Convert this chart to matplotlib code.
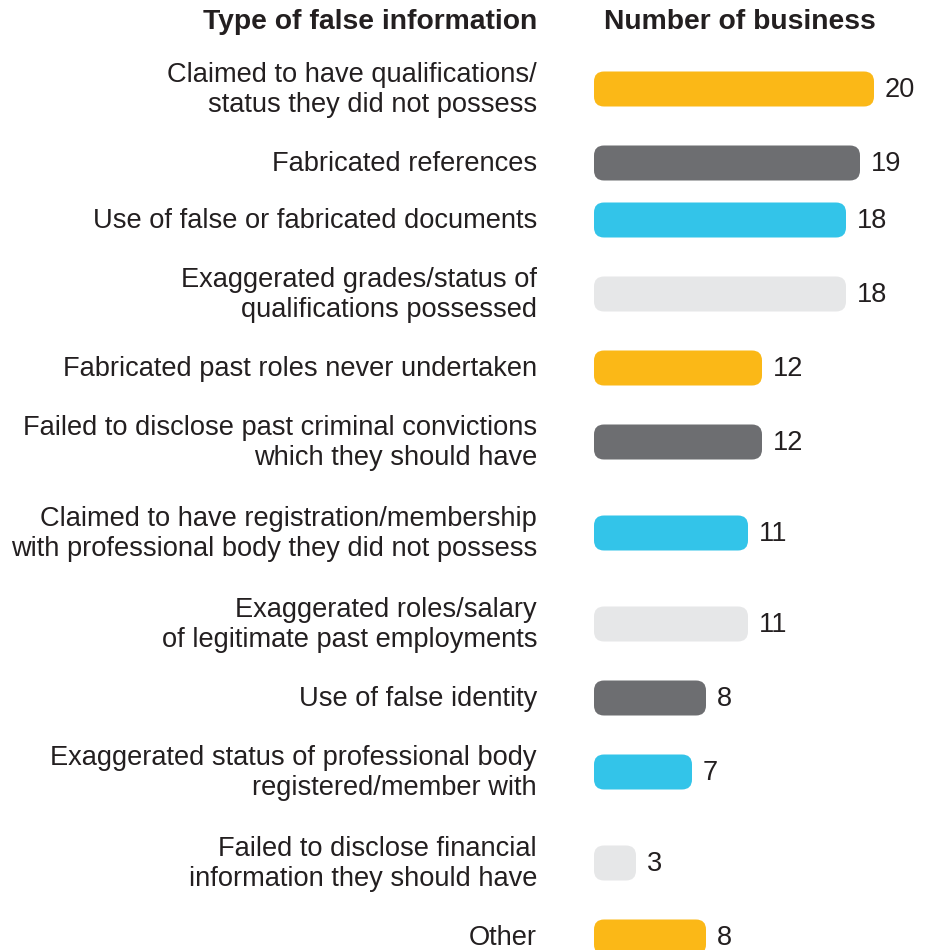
import matplotlib.pyplot as plt
from matplotlib.patches import FancyBboxPatch
from matplotlib import font_manager
import matplotlib.transforms as mtransforms

labels = [
    "Claimed to have qualifications/\nstatus they did not possess",
    "Fabricated references",
    "Use of false or fabricated documents",
    "Exaggerated grades/status of\nqualifications possessed",
    "Fabricated past roles never undertaken",
    "Failed to disclose past criminal convictions\nwhich they should have",
    "Claimed to have registration/membership\nwith professional body they did not possess",
    "Exaggerated roles/salary\nof legitimate past employments",
    "Use of false identity",
    "Exaggerated status of professional body\nregistered/member with",
    "Failed to disclose financial\ninformation they should have",
    "Other",
]
values = [20, 19, 18, 18, 12, 12, 11, 11, 8, 7, 3, 8]
bar_colors = ["#FBB817", "#6D6E71", "#33C4E9", "#E6E7E8",
              "#FBB817", "#6D6E71", "#33C4E9", "#E6E7E8",
              "#6D6E71", "#33C4E9", "#E6E7E8", "#FBB817"]

# regular (not narrow) Liberation Sans files
reg = bold = None
for f in font_manager.fontManager.ttflist:
    if f.name == "Liberation Sans" and "Narrow" not in f.fname and f.style == "normal":
        if f.weight in (400, "normal", "regular"):
            reg = f.fname
        if f.weight in (700, "bold"):
            bold = f.fname

def props(path, size, weight="normal"):
    if path:
        return font_manager.FontProperties(fname=path, size=size)
    return font_manager.FontProperties(family="Liberation Sans", weight=weight, size=size)

fp = props(reg, 19.6)
fpb = props(bold, 20.3, "bold")

TXT = "#231F20"

W, H = 932, 950
fig = plt.figure(figsize=(W / 100, H / 100), dpi=100)

# bar axes: starts at the bar origin, runs to the right edge, full height in px
x0 = 594
ax = fig.add_axes([x0 / W, 0, 1 - x0 / W, 1])
px_per_unit = 14.0
ax.set_xlim(0, (W - x0) / px_per_unit)
ax.set_ylim(H, 0)
ax.axis("off")

# row centres from line counts of the labels
lines = [l.count("\n") + 1 for l in labels]
ys = [89]
for i in range(1, len(labels)):
    ys.append(ys[-1] + 57 + 17 * ((lines[i - 1] - 1) + (lines[i] - 1)))

bar_h = 35
radius_px = 10
for v, y, c in zip(values, ys, bar_colors):
    box = FancyBboxPatch((0, y - bar_h / 2), v, bar_h,
                         boxstyle="round,pad=0,rounding_size=%f" % (radius_px / px_per_unit),
                         mutation_aspect=px_per_unit,
                         fc=c, ec="none", clip_on=False)
    ax.add_patch(box)
    ax.text(v + 11 / px_per_unit, y + 1, str(v), ha="left", va="center",
            fontproperties=fp, color=TXT)

trans = mtransforms.blended_transform_factory(fig.transFigure, ax.transData)
for lab, y in zip(labels, ys):
    ax.text(537 / W, y + 1, lab, transform=trans, ha="right", va="center",
            fontproperties=fp, color=TXT, linespacing=1.16)

ax.text(537 / W, 22, "Type of false information", transform=trans,
        ha="right", va="center", fontproperties=fpb, color=TXT)
ax.text(604 / W, 22, "Number of business", transform=trans,
        ha="left", va="center", fontproperties=fpb, color=TXT)

fig.savefig("out.png", dpi=100)
